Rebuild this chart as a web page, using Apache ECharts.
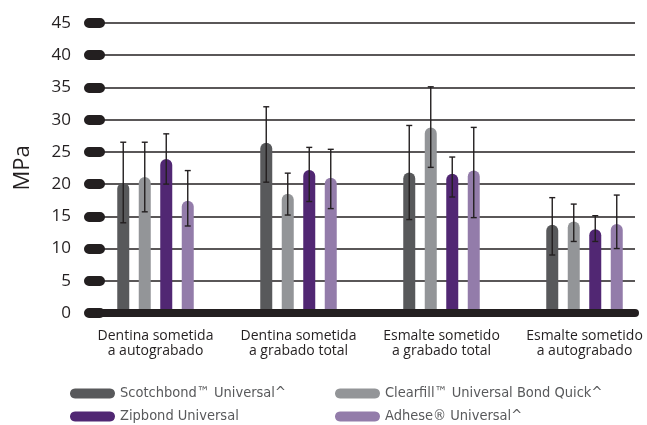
<!DOCTYPE html>
<html>
<head>
<meta charset="utf-8">
<script src="https://cdn.jsdelivr.net/npm/echarts@6/dist/echarts.min.js"></script>
<style>html,body{margin:0;padding:0;background:#fff}#c{width:647px;height:425px}</style>
</head>
<body>
<div id="c"></div>
<script>
const categories = ['Dentina sometida\na autograbado', 'Dentina sometida\na grabado total', 'Esmalte sometido\na grabado total', 'Esmalte sometido\na autograbado'];
const yTicks = [0, 5, 10, 15, 20, 25, 30, 35, 40, 45];
const seriesNames = ['Scotchbond™ Universal^', 'Clearfill™ Universal Bond Quick^', 'Zipbond Universal', 'Adhese® Universal^'];
const scotchbond = [20.2, 26.4, 21.8, 13.7];
const clearfill = [21.1, 18.5, 28.8, 14.2];
const zipbond = [23.9, 22.2, 21.6, 13.0];
const adhese = [17.4, 21.0, 22.1, 13.8];
const scotchbondErr = [[14.0, 26.5], [20.3, 32.0], [14.5, 29.1], [9.0, 17.9]];
const clearfillErr = [[15.7, 26.5], [15.2, 21.7], [22.6, 35.1], [11.1, 16.9]];
const zipbondErr = [[20.0, 27.8], [17.3, 25.7], [18.0, 24.2], [11.1, 15.1]];
const adheseErr = [[13.5, 22.1], [16.2, 25.4], [14.8, 28.8], [10.0, 18.3]];

const colors = ['#58595b', '#939598', '#512773', '#937caa'];
const values = [scotchbond, clearfill, zipbond, adhese];
const errs = [scotchbondErr, clearfillErr, zipbondErr, adheseErr];
const BW = 12, STEP = 21.5;
const pill = 'path://M5,0 L40,0 C46.67,0 46.67,10 40,10 L5,10 C-1.67,10 -1.67,0 5,0 Z';

const chart = echarts.init(document.getElementById('c'));
const series = [];
values.forEach((v, i) => {
  series.push({
    name: seriesNames[i], type: 'bar', xAxisIndex: 1, yAxisIndex: 1,
    data: v, barWidth: BW, barGap: ((STEP - BW) / BW * 100) + '%',
    itemStyle: { color: colors[i], borderRadius: [6, 6, 0, 0] },
    z: 3
  });
});
errs.forEach((e, i) => {
  series.push({
    type: 'custom', xAxisIndex: 1, yAxisIndex: 1, z: 4,
    data: e.map((d, k) => [k, d[0], d[1]]),
    renderItem: function (params, api) {
      const c = api.value(0);
      const lo = api.coord([c, api.value(1)]);
      const hi = api.coord([c, api.value(2)]);
      const x = lo[0] + (i - 1.5) * STEP;
      const st = { stroke: '#231f20', lineWidth: 1.4 };
      return { type: 'group', children: [
        { type: 'line', shape: { x1: x, y1: hi[1], x2: x, y2: lo[1] }, style: st },
        { type: 'line', shape: { x1: x - 3, y1: hi[1], x2: x + 3, y2: hi[1] }, style: st },
        { type: 'line', shape: { x1: x - 3, y1: lo[1], x2: x + 3, y2: lo[1] }, style: st }
      ]};
    }
  });
});

const legendText = { fontFamily: "'Liberation Sans Narrow','DejaVu Sans Condensed',sans-serif", fontSize: 14.5, color: '#58595b' };
const legendPos = [[65, 381], [330, 381], [65, 404], [330, 404]];
const legends = seriesNames.map((n, i) => ({
  data: [n], left: legendPos[i][0], top: legendPos[i][1], icon: pill,
  itemWidth: 45, itemHeight: 10, textStyle: legendText, selectedMode: false
}));

chart.setOption({
  animation: false,
  grid: [
    { left: 100, right: 12, top: 23, bottom: 112, outerBoundsMode: 'none', containLabel: false },
    { left: 84, width: 572, top: 23, bottom: 112, outerBoundsMode: 'none', containLabel: false }
  ],
  xAxis: [
    { gridIndex: 0, type: 'value', min: 0, max: 1, z: 10,
      axisLine: { show: true, lineStyle: { color: '#231f20', width: 8, cap: 'round' } },
      axisTick: { show: false }, axisLabel: { show: false }, splitLine: { show: false } },
    { gridIndex: 1, type: 'category', data: categories,
      axisLine: { show: false }, axisTick: { show: false },
      axisLabel: { interval: 0, margin: 16, fontFamily: "'Open Sans',sans-serif", fontSize: 14, lineHeight: 15, color: '#231f20' } }
  ],
  yAxis: [
    { gridIndex: 0, type: 'value', min: 0, max: 45, interval: 5,
      name: 'MPa', nameLocation: 'middle', nameGap: 66, nameRotate: 90,
      nameTextStyle: { fontFamily: "'Open Sans',sans-serif", fontSize: 22, color: '#231f20' },
      axisLine: { show: false },
      axisTick: { show: true, length: 11, lineStyle: { color: '#231f20', width: 10, cap: 'round' } },
      axisLabel: { margin: 29, fontFamily: "'Open Sans',sans-serif", fontSize: 17, color: '#231f20',
        formatter: v => yTicks.includes(v) ? String(v) : '' },
      splitLine: { show: true, lineStyle: { color: '#231f20', width: 1.5 } } },
    { gridIndex: 1, type: 'value', min: 0, max: 45, show: false }
  ],
  legend: legends,
  series: series
});
</script>
</body>
</html>
